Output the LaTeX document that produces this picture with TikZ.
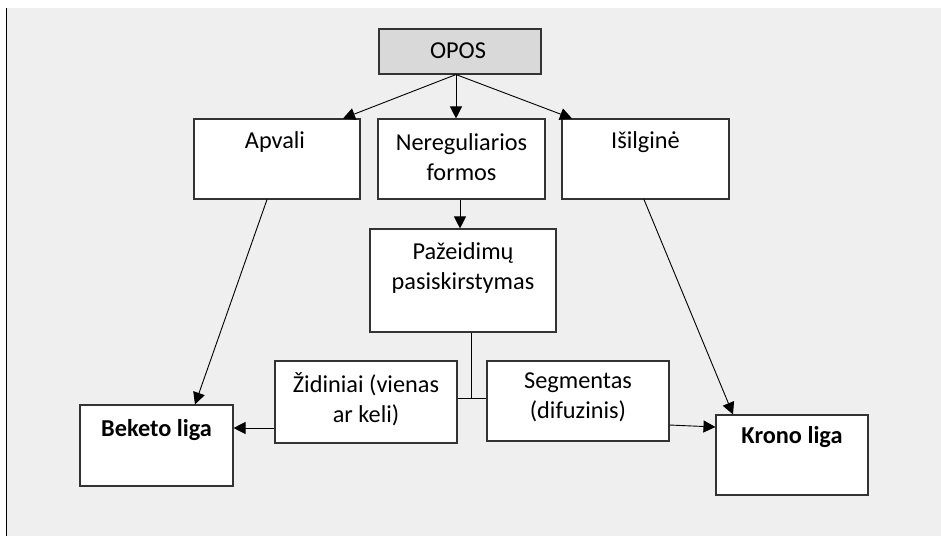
\documentclass[tikz,border=0pt]{standalone}
\usepackage{fontspec}
\setmainfont{Carlito}
\usetikzlibrary{arrows.meta,calc}
\definecolor{bgc}{HTML}{EFEFEF}
\definecolor{boxc}{HTML}{333333}
\definecolor{oposc}{HTML}{D9D9D9}
\begin{document}
\begin{tikzpicture}[x=1pt,y=-1pt,
  box/.style={draw=boxc, line width=1.1pt, fill=white, inner sep=0pt},
  txt/.style={anchor=base, align=center, inner sep=0pt, font=\fontsize{24.3}{30}\selectfont},
  arr/.style={draw=black, line width=0.9pt, -{Triangle[length=12pt,width=12pt]}},
  ln/.style={draw=black, line width=0.9pt}]
\useasboundingbox (0,0) rectangle (941,536);
\fill[white] (0,0) rectangle (941,536);
\fill[bgc] (7,8) rectangle (941,536);
\draw[line width=1.2pt, black] (6.5,8) -- (6.5,536);
% boxes
\node[box, fill=oposc, minimum width=162pt, minimum height=45pt] (opos) at (460,51.5) {};
\node[box, minimum width=166pt, minimum height=80pt] (apvali) at (277,159) {};
\node[box, minimum width=167pt, minimum height=80pt] (nereg) at (461.5,159) {};
\node[box, minimum width=167pt, minimum height=80pt] (isilg) at (645.5,159) {};
\node[box, minimum width=186pt, minimum height=103pt] (pazeid) at (463,280.5) {};
\node[box, minimum width=182pt, minimum height=82pt] (zid) at (366,402) {};
\node[box, minimum width=182pt, minimum height=80pt] (seg) at (578,401) {};
\node[box, minimum width=153pt, minimum height=81pt] (beketo) at (156.5,445.5) {};
\node[box, minimum width=152pt, minimum height=80pt] (krono) at (792,455) {};
% texts
\node[txt] (opos-t) at (458,58) {OPOS};
\node[txt] (apvali-t) at (275,148) {Apvali};
\node[txt] (nereg-t) at (461.5,180) {Nereguliarios\\formos};
\node[txt] (isilg-t) at (645.5,148) {Išilginė};
\node[txt] (pazeid-t) at (463,289) {Pažeidimų\\pasiskirstymas};
\node[txt] (zid-t) at (366,422) {Židiniai (vienas\\ar keli)};
\node[txt] (seg-t) at (578,418) {Segmentas\\(difuzinis)};
\node[txt, font=\fontsize{24.3}{30}\selectfont\bfseries] (beketo-t) at (156.5,436) {Beketo liga};
\node[txt, font=\fontsize{24.3}{30}\selectfont\bfseries] (krono-t) at (792,443) {Krono liga};
% connectors
\coordinate (top) at ([xshift=-4pt]opos.south);
\draw[arr] (top) -- ([xshift=66pt]apvali.north);
\draw[arr] (top) -- (top |- nereg.north);
\draw[arr] (top) -- ([xshift=-73.5pt]isilg.north);
\draw[arr] ([xshift=-1.5pt]nereg.south) -- ([xshift=-1.5pt]nereg.south |- pazeid.north);
\draw[arr] ([xshift=-10pt]apvali.south) -- ([xshift=38.5pt]beketo.north);
\draw[arr] ([xshift=-1.5pt]isilg.south) -- ([xshift=-59pt]krono.north);
\coordinate (j) at (471,398);
\draw[ln] (j |- pazeid.south) -- (j);
\draw[ln] (zid.east |- j) -- (seg.west |- j);
\draw[arr] ([yshift=-26pt]zid.west) -- ([yshift=17.5pt]beketo.east);
\draw[arr] ([yshift=-24pt]seg.east) -- ([yshift=28pt]krono.west);
\end{tikzpicture}
\end{document}
